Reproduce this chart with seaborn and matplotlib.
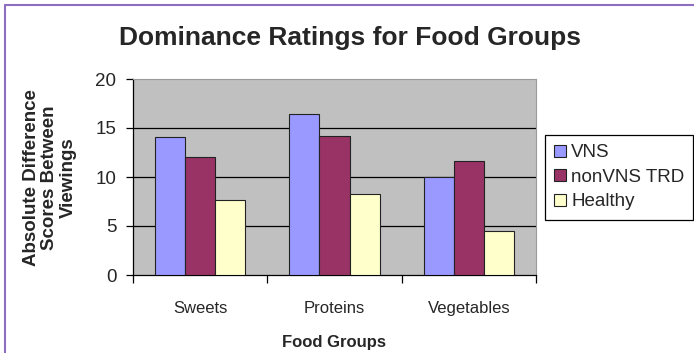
import matplotlib
matplotlib.use("Agg")
import matplotlib.pyplot as plt
from matplotlib.lines import Line2D
import seaborn as sns
import pandas as pd

categories = ["Sweets", "Proteins", "Vegetables"]
series_names = ["VNS", "nonVNS TRD", "Healthy"]
vns = [14.1, 16.4, 10.0]
nonvns_trd = [12.0, 14.2, 11.6]
healthy = [7.7, 8.3, 4.5]
y_ticks = [0, 5, 10, 15, 20]
colors = ["#9999FF", "#993366", "#FFFFCC"]

rows = []
for name, vals in zip(series_names, [vns, nonvns_trd, healthy]):
    for c, v in zip(categories, vals):
        rows.append({"Food Groups": c, "Group": name, "Value": v})
df = pd.DataFrame(rows)

sns.set_theme(style="white")
plt.rcParams["font.family"] = ["Liberation Sans", "DejaVu Sans"]

fig = plt.figure(figsize=(6.94, 3.53), dpi=100)
fig.patch.set_facecolor("white")
ax = fig.add_axes([133 / 694, 1 - 275 / 353, (536 - 133) / 694, (275 - 79) / 353])
ax.set_facecolor("#C0C0C0")

sns.barplot(data=df, x="Food Groups", y="Value", hue="Group",
            hue_order=series_names, order=categories, palette=colors,
            saturation=1, width=0.67, edgecolor="#222222", linewidth=0.8, ax=ax,
            errorbar=None, zorder=3)

ax.set_xlim(-0.5, 2.5)
ax.set_ylim(0, 20)
ax.set_yticks(y_ticks)
ax.set_yticklabels([str(t) for t in y_ticks], fontsize=13.5)
for t in y_ticks[1:-1]:
    ax.axhline(t, color="black", linewidth=0.9, zorder=1)

ax.set_xticks(range(len(categories)))
ax.set_xticklabels(categories, fontsize=12)
ax.tick_params(axis="x", which="major", length=0, pad=19)
ax.set_xticks([-0.5, 0.5, 1.5, 2.5], minor=True)
ax.tick_params(axis="x", which="minor", length=6, width=0.9, color="black", bottom=True)
ax.tick_params(axis="y", length=5, width=0.9, color="black", left=True, pad=7)

for side in ["left", "bottom"]:
    ax.spines[side].set_color("black")
    ax.spines[side].set_linewidth(0.9)
for side in ["top", "right"]:
    ax.spines[side].set_color("#9A9A9A")
    ax.spines[side].set_linewidth(0.8)

ax.set_xlabel("")
ax.set_ylabel("")
fig.text(334 / 694, 1 - 342 / 353, "Food Groups", ha="center", va="center",
         fontsize=12, fontweight="bold")
fig.text(50 / 694, 1 - 178 / 353, "Absolute Difference\nScores Between\nViewings",
         ha="center", va="center", rotation=90, fontsize=13.5, fontweight="bold",
         linespacing=1.12)

fig.text(0.505, 1 - 38 / 353, "Dominance Ratings for Food Groups", ha="center", va="center",
         fontsize=19, fontweight="bold")

handles, labels = ax.get_legend_handles_labels()
ax.legend(handles, labels, loc="upper left", bbox_to_anchor=(545 / 694, 1 - 135 / 353, 148 / 694, 0.0),
          bbox_transform=fig.transFigure, mode="expand", fontsize=13.5, frameon=True,
          fancybox=False, edgecolor="black", framealpha=1, handlelength=0.6,
          handleheight=0.6, handletextpad=0.3, labelspacing=0.4, borderpad=0.5,
          borderaxespad=0)
ax.get_legend().get_frame().set_linewidth(0.9)

fig.add_artist(Line2D([5 / 694, 1], [1 - 5 / 353, 1 - 5 / 353], transform=fig.transFigure,
                      color="#8E6FBF", linewidth=1.5))
fig.add_artist(Line2D([5 / 694, 5 / 694], [0, 1 - 5 / 353], transform=fig.transFigure,
                      color="#8E6FBF", linewidth=1.5))

fig.savefig("out.png", dpi=100)
